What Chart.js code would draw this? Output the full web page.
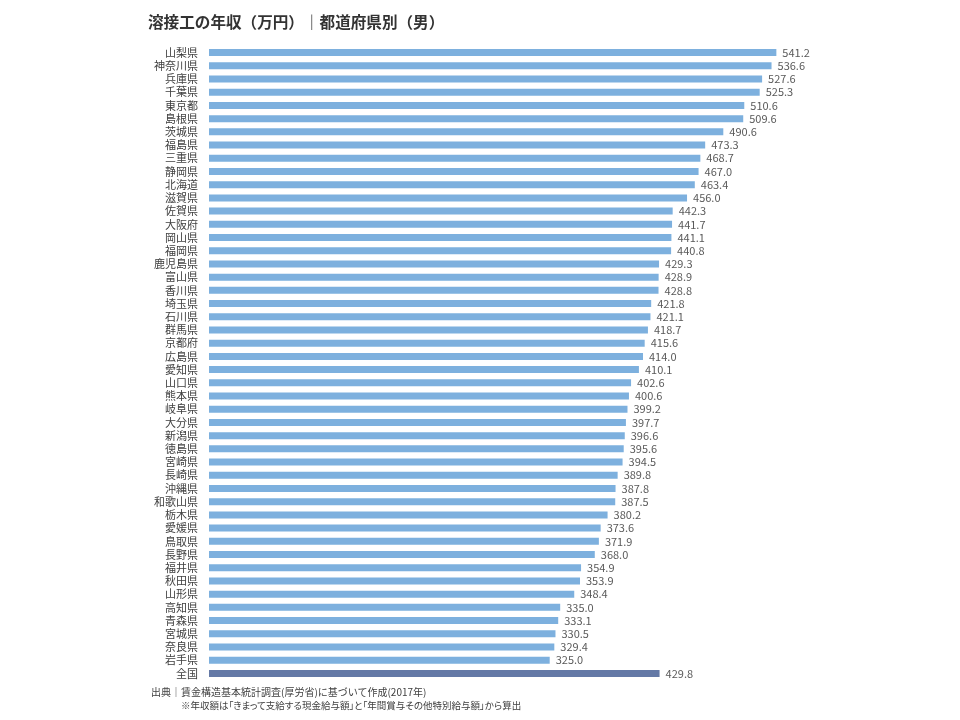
<!DOCTYPE html>
<html lang="ja">
<head>
<meta charset="utf-8">
<script src="https://cdn.jsdelivr.net/npm/chart.js@4"></script>
<style>
  body { margin: 0; background: #fff; font-family: "Noto Sans CJK JP", "Noto Sans", sans-serif; }
  #wrap { position: absolute; left: 0; top: 0; width: 960px; height: 720px; }
  .title { position: absolute; left: 148px; top: 10px; font-size: 15.6px; font-weight: bold; color: #333; white-space: nowrap; }
  .note { position: absolute; color: #404040; white-space: nowrap; }
</style>
</head>
<body>
<div id="wrap"><canvas id="barChart"></canvas></div>
<div class="title">溶接工の年収（万円）｜都道府県別（男）</div>
<div class="note" style="left:151px; top:684px; font-size:10px;">出典｜賃金構造基本統計調査(厚労省)に基づいて作成(2017年)</div>
<div class="note" style="left:181px; top:698px; font-size:9.5px; font-feature-settings: 'palt';">※年収額は「きまって支給する現金給与額」と「年間賞与その他特別給与額」から算出</div>
<script>
const PREFS = [
  '山梨県', '神奈川県', '兵庫県', '千葉県', '東京都', '島根県', '茨城県', '福島県',
  '三重県', '静岡県', '北海道', '滋賀県', '佐賀県', '大阪府', '岡山県', '福岡県',
  '鹿児島県', '富山県', '香川県', '埼玉県', '石川県', '群馬県', '京都府', '広島県',
  '愛知県', '山口県', '熊本県', '岐阜県', '大分県', '新潟県', '徳島県', '宮崎県',
  '長崎県', '沖縄県', '和歌山県', '栃木県', '愛媛県', '鳥取県', '長野県', '福井県',
  '秋田県', '山形県', '高知県', '青森県', '宮城県', '奈良県', '岩手県', '全国',
];
const INCOME = [
  541.2, 536.6, 527.6, 525.3, 510.6, 509.6, 490.6, 473.3,
  468.7, 467.0, 463.4, 456.0, 442.3, 441.7, 441.1, 440.8,
  429.3, 428.9, 428.8, 421.8, 421.1, 418.7, 415.6, 414.0,
  410.1, 402.6, 400.6, 399.2, 397.7, 396.6, 395.6, 394.5,
  389.8, 387.8, 387.5, 380.2, 373.6, 371.9, 368.0, 354.9,
  353.9, 348.4, 335.0, 333.1, 330.5, 329.4, 325.0, 429.8,
];
const X_MIN = 0;
const X_MAX = 600;

const BAR_COLOR = '#7db0de';
const TOTAL_COLOR = '#6479a6';

// draw the value next to the end of each bar
const valueLabels = {
  id: 'valueLabels',
  afterDatasetsDraw(chart) {
    const ctx = chart.ctx;
    const meta = chart.getDatasetMeta(0);
    ctx.save();
    ctx.font = '11px "Noto Sans CJK JP", "Noto Sans", sans-serif';
    ctx.fillStyle = '#595959';
    ctx.textAlign = 'left';
    ctx.textBaseline = 'middle';
    meta.data.forEach((bar, i) => {
      ctx.fillText(INCOME[i].toFixed(1), bar.x + 6, bar.y);
    });
    ctx.restore();
  },
};

new Chart(document.getElementById('barChart').getContext('2d'), {
  type: 'bar',
  plugins: [valueLabels],
  data: {
    labels: PREFS,
    datasets: [{
      data: INCOME,
      backgroundColor: PREFS.map(p => p === '全国' ? TOTAL_COLOR : BAR_COLOR),
      borderWidth: 0,
      categoryPercentage: 1,
      barPercentage: 0.53,
    }],
  },
  options: {
    indexAxis: 'y',
    responsive: true,
    maintainAspectRatio: false,
    animation: false,
    layout: { padding: { left: 0, right: 122, top: 46, bottom: 40 } },
    plugins: {
      legend: { display: false },
      tooltip: { enabled: false },
    },
    scales: {
      x: { display: false, min: X_MIN, max: X_MAX },
      y: {
        grid: { display: false, drawTicks: false },
        border: { display: false },
        ticks: {
          autoSkip: false,
          padding: 11,
          color: '#404040',
          font: { family: '"Noto Sans CJK JP", "Noto Sans", sans-serif', size: 11 },
        },
        afterFit: scale => { scale.width = 209; },
      },
    },
  },
});
</script>
</body>
</html>
